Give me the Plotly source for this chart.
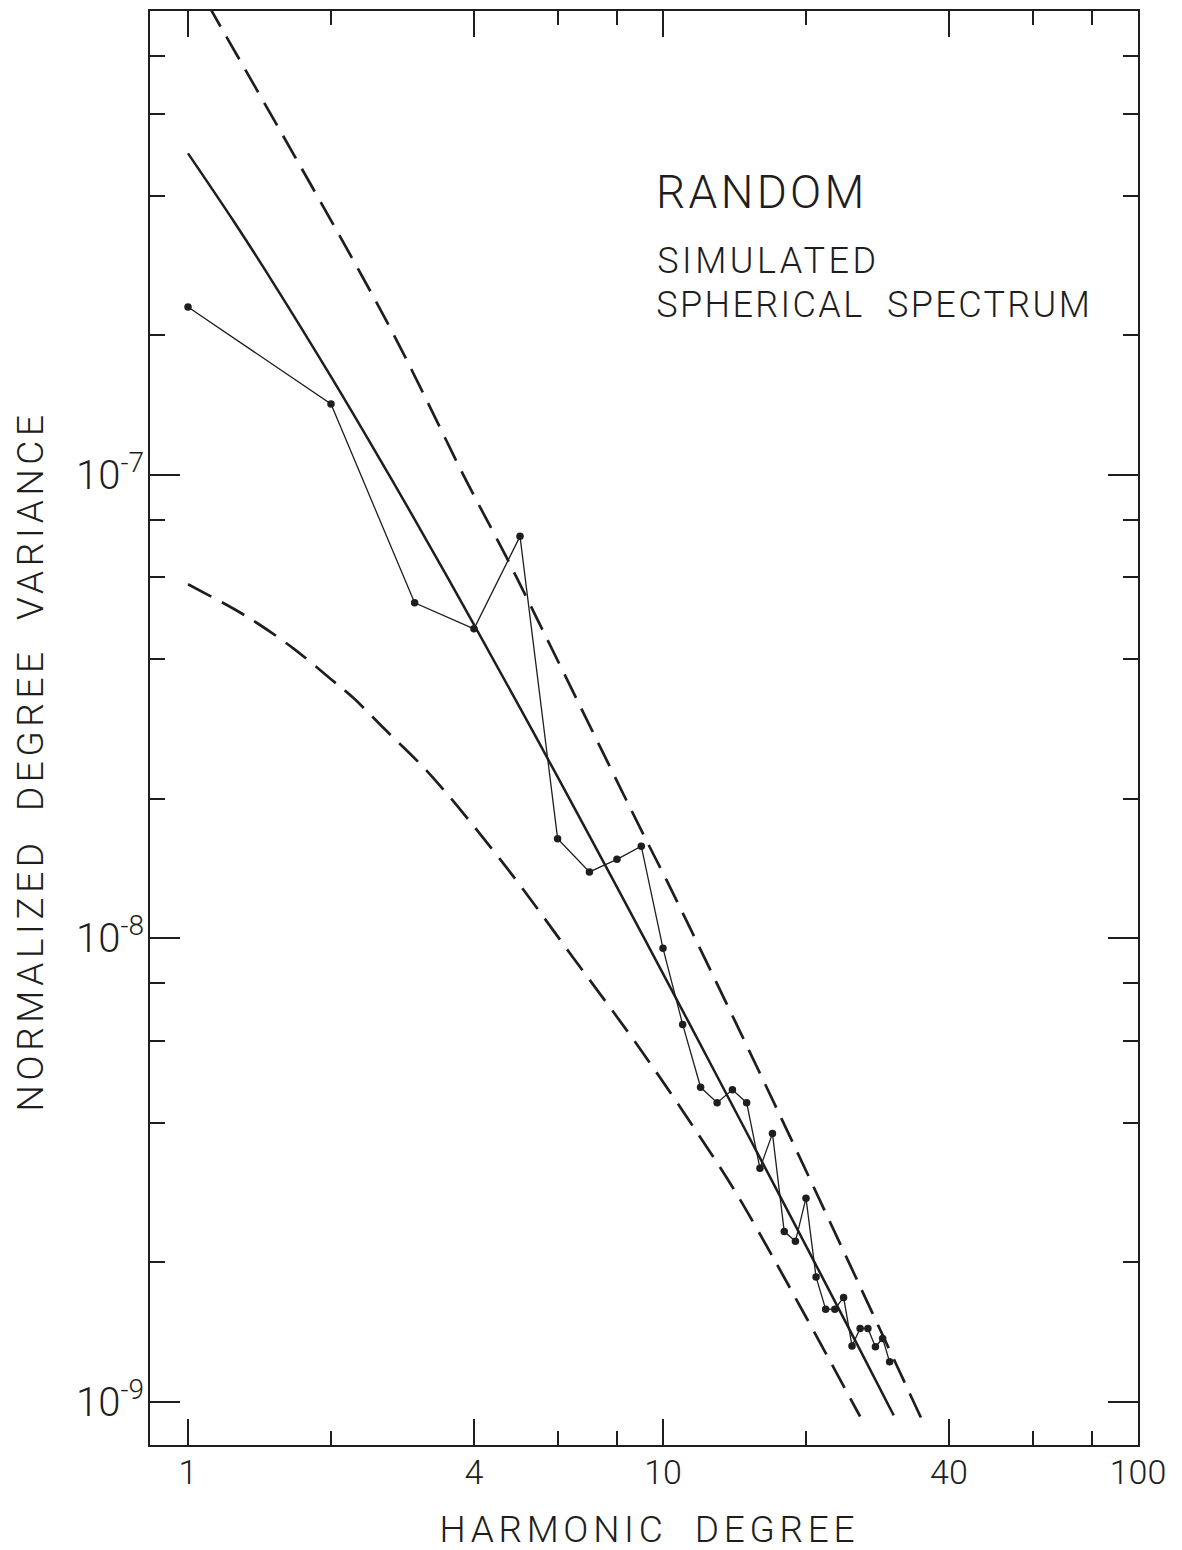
import json
import plotly.graph_objects as go

# Simulated spherical spectrum: degree variance for each harmonic degree
degree = list(range(1, 31))
variance = [2.30e-7, 1.42e-7, 5.29e-8, 4.65e-8, 7.36e-8, 1.64e-8, 1.39e-8, 1.48e-8, 1.58e-8, 9.51e-9,
            6.52e-9, 4.77e-9, 4.42e-9, 4.71e-9, 4.42e-9, 3.19e-9, 3.79e-9, 2.33e-9, 2.22e-9, 2.75e-9,
            1.86e-9, 1.585e-9, 1.585e-9, 1.68e-9, 1.32e-9, 1.44e-9, 1.44e-9, 1.315e-9, 1.37e-9, 1.22e-9]

# Model spectrum (solid) and its upper / lower envelopes (dashed)
model_deg = [1.0, 1.25, 1.5, 2, 2.5, 3, 4, 5, 6, 8, 10, 13, 16, 20, 25, 30.6]
model_var = [4.93e-7, 3.51e-7, 2.625e-7, 1.627e-7, 1.106e-7, 8.01e-8, 4.75e-8, 3.14e-8, 2.228e-8,
             1.289e-8, 8.39e-9, 5.04e-9, 3.36e-9, 2.17e-9, 1.398e-9, 9.35e-10]

upper_deg = [1.1, 1.13, 2.62, 3.86, 4.69, 5.87, 8.95, 10.52, 17.49, 35.0]
upper_var = [1.036e-6, 9.87e-7, 2.14e-7, 9.67e-8, 6.61e-8, 4.16e-8, 1.73e-8, 1.245e-8, 4.22e-9, 9.2e-10]

lower_deg = [1.0, 1.25, 1.4, 1.666, 2.0, 2.228, 2.6, 3.232, 4.69, 6.47, 8.95, 11.96, 14.53, 26.0]
lower_var = [5.80e-8, 5.13e-8, 4.78e-8, 4.22e-8, 3.62e-8, 3.30e-8, 2.82e-8, 2.257e-8, 1.418e-8,
             9.08e-9, 5.77e-9, 3.73e-9, 2.73e-9, 9.30e-10]

# Axis ticks
x_major = [1, 4, 10, 40, 100]
x_major_text = ["1", "4", "10", "40", "100"]
x_minor = [2, 6, 8, 20, 60, 80]
y_major = [1e-9, 1e-8, 1e-7]
y_major_text = ["10<sup>-9</sup>", "10<sup>-8</sup>", "10<sup>-7</sup>"]
y_minor = [2e-9, 4e-9, 6e-9, 8e-9, 2e-8, 4e-8, 6e-8, 8e-8, 2e-7, 4e-7, 6e-7, 8e-7]

INK = "#1e1e1e"
FONT = "Roboto"

fig = go.Figure()
fig.add_trace(go.Scatter(x=upper_deg, y=upper_var, mode="lines", line_shape="spline",
                         line=dict(color=INK, width=2.7, dash="26px,12px"), hoverinfo="skip"))
fig.add_trace(go.Scatter(x=lower_deg, y=lower_var, mode="lines", line_shape="spline",
                         line=dict(color=INK, width=2.7, dash="26px,12px"), hoverinfo="skip"))
fig.add_trace(go.Scatter(x=model_deg, y=model_var, mode="lines", line_shape="spline",
                         line=dict(color=INK, width=2.5), hoverinfo="skip"))
fig.add_trace(go.Scatter(x=degree, y=variance, mode="lines+markers",
                         line=dict(color=INK, width=1.3),
                         marker=dict(color=INK, size=7.5)))

axis_common = dict(
    showgrid=False, zeroline=False, showline=True, linecolor=INK, linewidth=2,
    mirror="allticks", ticks="inside", tickcolor=INK, tickwidth=2,
)

fig.update_xaxes(
    type="log", range=[-0.08, 2.0], tickmode="array", tickvals=x_major, ticktext=x_major_text,
    ticklen=26, tickfont=dict(family=FONT, size=34, color=INK), ticklabelstandoff=-4,
    minor=dict(tickmode="array", tickvals=x_minor, ticks="inside", ticklen=14,
               tickwidth=2, tickcolor=INK, showgrid=False),
    **axis_common,
)
fig.update_yaxes(
    type="log", range=[-9.093, -6.0], tickmode="array", tickvals=y_major, ticktext=y_major_text,
    ticklen=30, tickfont=dict(family=FONT, size=40, color=INK), ticklabelstandoff=-4,
    minor=dict(tickmode="array", tickvals=y_minor, ticks="inside", ticklen=15,
               tickwidth=2, tickcolor=INK, showgrid=False),
    **axis_common,
)

annotations = [
    dict(text="RANDOM", x=0.5132, y=0.874, xshift=7, font=dict(size=46)),
    dict(text="SIMULATED", x=0.5132, y=0.826, xshift=14, font=dict(size=36)),
    dict(text="SPHERICAL\u00a0\u00a0SPECTRUM", x=0.5132, y=0.795, xshift=20, font=dict(size=36)),
]
for a in annotations:
    a["font"].update(family=FONT, color=INK)
    fig.add_annotation(xref="paper", yref="paper", xanchor="left", yanchor="middle",
                       showarrow=False, **a)

fig.add_annotation(text="HARMONIC\u00a0\u00a0DEGREE", xref="paper", yref="paper",
                   x=0.506, y=-0.0592, xanchor="center", yanchor="middle", showarrow=False,
                   font=dict(family=FONT, size=37, color=INK))
fig.add_annotation(text="NORMALIZED\u00a0\u00a0DEGREE\u00a0\u00a0VARIANCE", xref="paper", yref="paper",
                   x=-0.1204, y=0.477, xanchor="center", yanchor="middle", textangle=-90,
                   showarrow=False, font=dict(family=FONT, size=37, color=INK))

fig.update_layout(
    width=1182, height=1550, showlegend=False,
    margin=dict(l=150, r=44, t=9, b=105),
    paper_bgcolor="white", plot_bgcolor="white",
    font=dict(family=FONT, weight=300, color=INK),
)

# Wide, drafting-style letter spacing for the lettering
letter_gaps = {
    "RANDOM": 3.3,
    "SIMULATED": 3.5,
    "SPHERICAL  SPECTRUM": 2.4,
    "HARMONIC  DEGREE": 4.7,
    "NORMALIZED  DEGREE  VARIANCE": 4.6,
}
spread_js = """
(function () {
  var gd = document.getElementById('{plot_id}');
  var gaps = %s;
  gd.querySelectorAll('text.annotation-text').forEach(function (t) {
    var key = t.textContent.replace(/\\u00a0/g, ' ');
    if (gaps[key] !== undefined) { t.style.letterSpacing = gaps[key] + 'px'; }
  });
})();
""" % json.dumps(letter_gaps)

fig.write_html("out.html", post_script=spread_js)
